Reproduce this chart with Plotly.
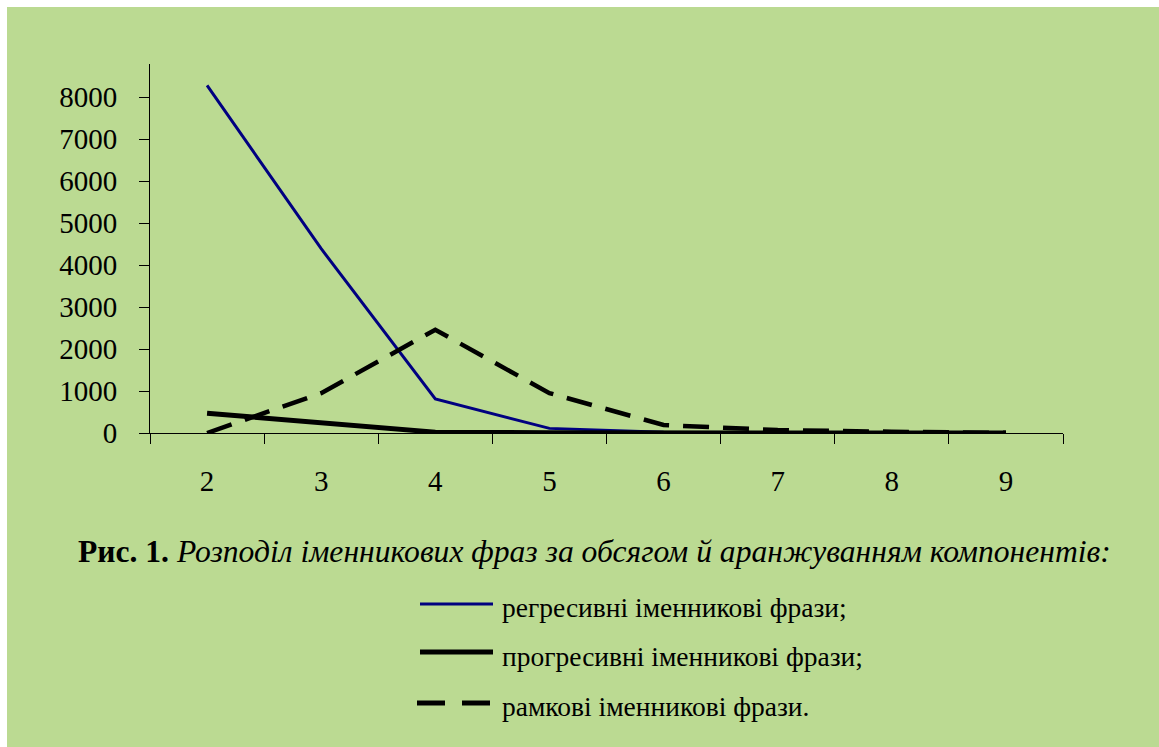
import plotly.graph_objects as go

categories = ["2", "3", "4", "5", "6", "7", "8", "9"]
regressive = [8280, 4390, 810, 110, 20, 10, 5, 0]
progressive = [470, 230, 20, 5, 0, 0, 0, 0]
frame = [0, 950, 2460, 950, 190, 70, 30, 5]
y_ticks = [0, 1000, 2000, 3000, 4000, 5000, 6000, 7000, 8000]
legend_labels = ["регресивні іменникові фрази;", "прогресивні іменникові фрази;", "рамкові іменникові фрази."]
caption_bold = "Рис. 1."
caption_italic = "Розподіл іменникових фраз за обсягом й аранжуванням компонентів:"

W, H = 1159, 747
L, R, T, B = 150, 1063, 64, 433
GREEN = "#BBDA92"
FONT = "Liberation Serif, DejaVu Serif, serif"

def px_x(p):
    return (p - L) / (R - L)

def px_y(p):
    return (B - p) / (B - T)

fig = go.Figure()
fig.add_trace(go.Scatter(x=categories, y=regressive, mode="lines",
                         line=dict(color="#000080", width=3), name=legend_labels[0]))
fig.add_trace(go.Scatter(x=categories, y=progressive, mode="lines",
                         line=dict(color="black", width=5), name=legend_labels[1]))
fig.add_trace(go.Scatter(x=categories, y=frame, mode="lines",
                         line=dict(color="black", width=4.5, dash="26px,14px"), name=legend_labels[2]))

shapes = []
shapes.append(dict(type="rect", xref="paper", yref="paper", layer="below",
                   x0=px_x(7), x1=px_x(W + 5), y0=px_y(7), y1=px_y(H + 5),
                   fillcolor=GREEN, line=dict(width=0)))

rows_y = [604, 652, 703]
shapes.append(dict(type="line", xref="paper", yref="paper", x0=px_x(420), x1=px_x(493),
                   y0=px_y(rows_y[0]), y1=px_y(rows_y[0]), line=dict(color="#000080", width=3)))
shapes.append(dict(type="line", xref="paper", yref="paper", x0=px_x(420), x1=px_x(493),
                   y0=px_y(rows_y[1]), y1=px_y(rows_y[1]), line=dict(color="black", width=5)))
for a, b in [(417, 445), (462, 490)]:
    shapes.append(dict(type="line", xref="paper", yref="paper", x0=px_x(a), x1=px_x(b),
                       y0=px_y(rows_y[2]), y1=px_y(rows_y[2]), line=dict(color="black", width=5)))

annotations = []
text_y = [607, 656, 706]
for lbl, ty in zip(legend_labels, text_y):
    annotations.append(dict(xref="paper", yref="paper", x=px_x(500), y=px_y(ty),
                            xanchor="left", yanchor="middle", showarrow=False, text=lbl,
                            font=dict(family=FONT, size=27.5, color="black")))
annotations.append(dict(xref="paper", yref="paper", x=px_x(76), y=px_y(551),
                        xanchor="left", yanchor="middle", showarrow=False,
                        text="<b>" + caption_bold + "</b> <i>" + caption_italic + "</i>",
                        font=dict(family=FONT, size=31.6, color="black")))

fig.update_layout(
    width=W, height=H,
    margin=dict(l=L, r=W - R, t=T, b=H - B, pad=0),
    paper_bgcolor="white", plot_bgcolor="rgba(0,0,0,0)",
    showlegend=False,
    font=dict(family=FONT, size=29, color="black"),
    shapes=shapes, annotations=annotations,
    xaxis=dict(type="category", tickson="boundaries", ticks="outside", ticklen=10,
               tickcolor="black", showline=True, linecolor="black", linewidth=1,
               showgrid=False, zeroline=False, ticklabelstandoff=22,
               range=[-0.5, 7.5]),
    yaxis=dict(range=[0, 8790], tickvals=y_ticks, ticks="outside", ticklen=10,
               tickcolor="black", showline=True, linecolor="black", linewidth=1,
               showgrid=False, zeroline=False, ticklabelstandoff=16),
)

fig.write_html("out.html", config={"displayModeBar": False},
               post_script="document.body.style.margin='0px';document.body.style.padding='0px';")
